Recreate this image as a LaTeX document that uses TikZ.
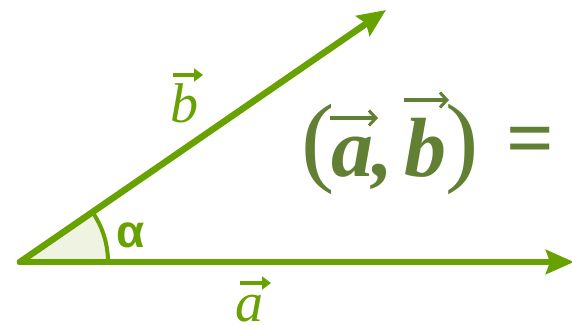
\documentclass[tikz,border=0pt]{standalone}
\usepackage{fontspec}
\setmainfont{Liberation Serif}
\newfontfamily\alphafont{Liberation Sans}
\usetikzlibrary{arrows.meta}
\definecolor{vgreen}{RGB}{104,162,0}
\definecolor{olive}{RGB}{98,128,52}
\definecolor{sectorfill}{RGB}{238,244,225}
\tikzset{
  vec/.style={line width=6.5pt, color=vgreen, line cap=round, -{Stealth[length=28pt,width=24pt,inset=4pt]}},
  lbl/.style={text=vgreen, inner sep=0pt, anchor=base, font=\fontsize{56}{58}\selectfont\itshape},
  lblarrow/.style={vgreen, line width=3.5pt, -{Triangle[length=9pt,width=13pt]}},
  fml/.style={text=olive, inner sep=0pt, anchor=base, font=\fontsize{84}{86}\selectfont\bfseries\itshape},
  paren/.style={text=olive, inner sep=0pt, font=\fontsize{100}{102}\selectfont},
  fmlarrow/.style={olive, line width=3.4pt, -{Straight Barb[length=7pt,width=15pt,line width=3pt]}},
  eqbar/.style={olive, line width=5pt},
}
\begin{document}
\begin{tikzpicture}[x=1pt,y=1pt]
\useasboundingbox (0,0) rectangle (572,324);
\coordinate (O) at (20,62);
\coordinate (A) at (574,62);
\coordinate (B) at (386,314);
\fill[sectorfill] (O) -- ++(88,0) arc[start angle=0,end angle=34.6,radius=88] -- cycle;
\draw[vgreen, line width=4pt] (O) ++(88,0) arc[start angle=0,end angle=34.6,radius=88];
\draw[vec] (O) -- (A);
\draw[vec] (O) -- (B);
% labels of the vectors
\node[lbl] (la) at (249,3) {a};
\coordinate (la1) at (240,41);
\coordinate (la2) at (271,41);
\draw[lblarrow] (la1) -- (la2);
\node[lbl] (lb) at (184,201) {b};
\coordinate (lb1) at (173,249);
\coordinate (lb2) at (203,249);
\draw[lblarrow] (lb1) -- (lb2);
\node[text=vgreen, font=\alphafont\bfseries\fontsize{46}{48}\selectfont] (al) at (131,89) {α};
% formula
\node[paren] (lp) at (318,175) {(};
\node[fml] (fa) at (352,147) {a};
\node[fml] (fc) at (383,147) {,};
\node[fml] (fb) at (425,147) {b};
\node[paren] (rp) at (462,175) {)};
\node[text=olive, inner sep=0pt, font=\fontsize{84}{86}\selectfont\bfseries] (eq) at (530,177) {=};
\coordinate (fa1) at (330,206);
\coordinate (fa2) at (378,206);
\draw[fmlarrow] (fa1) -- (fa2);
\coordinate (fb1) at (404,224);
\coordinate (fb2) at (449,224);
\draw[fmlarrow] (fb1) -- (fb2);
\end{tikzpicture}
\end{document}
